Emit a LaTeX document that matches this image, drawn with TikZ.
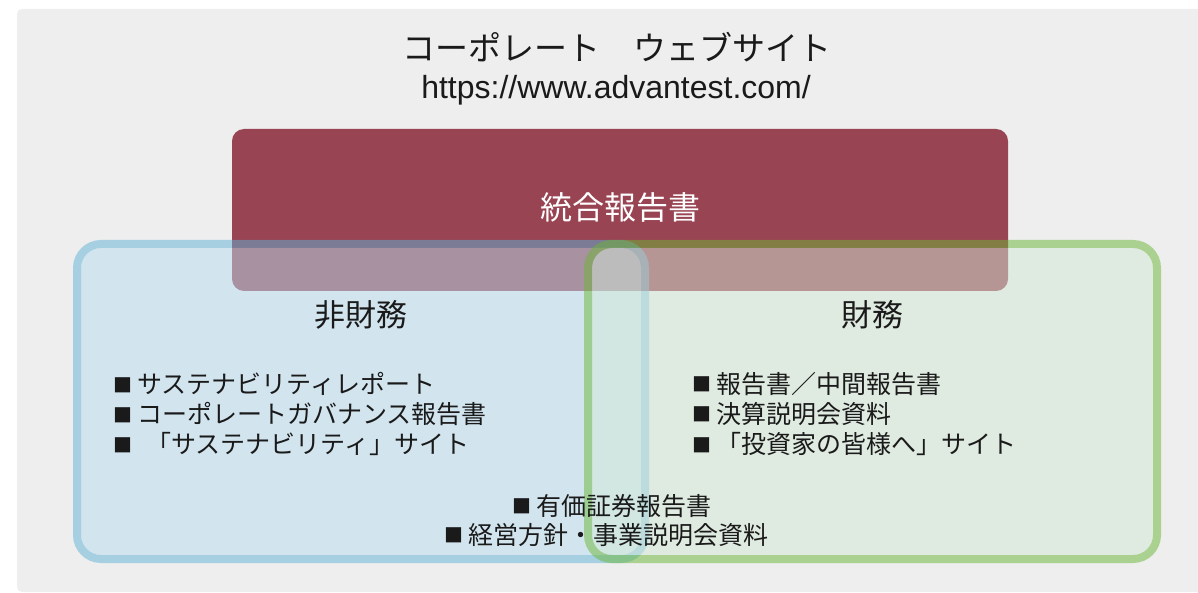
\documentclass[tikz,border=0pt]{standalone}
\usepackage{fontspec}
\setmainfont{Noto Sans CJK JP}
\newfontfamily\urlfont{Liberation Sans}
\definecolor{bgc}{HTML}{EDEEED}
\definecolor{redbox}{HTML}{984452}
\definecolor{bluefill}{HTML}{B9DEF1}
\definecolor{bluedraw}{HTML}{61B2D9}
\definecolor{greenfill}{HTML}{D3E8D7}
\definecolor{greendraw}{HTML}{6BB635}
\definecolor{txt}{HTML}{1A1A1A}
\newcommand{\bsq}{\makebox[24pt][l]{\raisebox{1.5pt}{\fontsize{19}{19}\selectfont ■}}}
\tikzset{
  px/.style={x=1pt,y=-1pt},
  listtxt/.style={anchor=west,inner sep=0pt,text=txt,font=\fontsize{25}{30}\selectfont},
  headtxt/.style={inner sep=0pt,text=txt,font=\fontsize{31}{36}\selectfont},
}
\begin{document}
\begin{tikzpicture}[px]
\useasboundingbox (0,0) rectangle (1198,593);
% background panel
\fill[bgc,rounded corners=5pt] (17,9) rectangle (1230,592);
% integrated report box
\fill[redbox,rounded corners=12pt] (232,129) rectangle (1008,291);
% non-financial (blue) box
\fill[bluefill,fill opacity=0.5,rounded corners=20pt] (81,248) rectangle (641,555);
\draw[bluedraw,draw opacity=0.5,line width=8pt,rounded corners=24pt] (77,244) rectangle (645,559);
% financial (green) box
\fill[greenfill,fill opacity=0.5,rounded corners=20pt] (592,248) rectangle (1153,555);
\draw[greendraw,draw opacity=0.5,line width=8pt,rounded corners=24pt] (588,244) rectangle (1157,559);
% texts
\node[inner sep=0pt,text=txt,font=\fontsize{33}{36}\selectfont] (title) at (617,47) {コーポレート　ウェブサイト};
\node[inner sep=0pt,text=txt,font=\urlfont\fontsize{32}{36}\selectfont] (url) at (616,90) {https://www.advantest.com/};
\node[inner sep=0pt,text=white,font=\fontsize{32}{36}\selectfont] (ir) at (620,207) {統合報告書};
\node[headtxt] (nonfin) at (361,315) {非財務};
\node[headtxt] (fin) at (872,315) {財務};
\node[listtxt] (l1) at (113,384) {\bsq サステナビリティレポート};
\node[listtxt] (l2) at (113,414) {\bsq コーポレートガバナンス報告書};
\node[listtxt] (l3) at (113,444) {\bsq\hspace{9pt}「サステナビリティ」サイト};
\node[listtxt] (r1) at (692,384) {\bsq 報告書／中間報告書};
\node[listtxt] (r2) at (692,414) {\bsq 決算説明会資料};
\node[listtxt] (r3) at (692,444) {\bsq 「投資家の皆様へ」サイト};
\node[listtxt,anchor=center] (b1) at (612,506) {\bsq 有価証券報告書};
\node[listtxt,anchor=center] (b2) at (606,535) {\bsq 経営方針・事業説明会資料};
\end{tikzpicture}
\end{document}
